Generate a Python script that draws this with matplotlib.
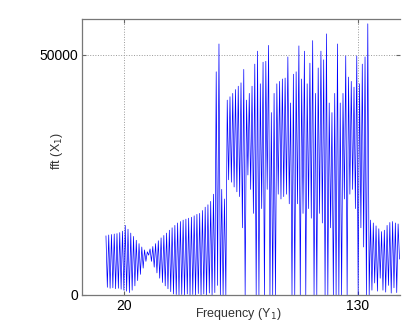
import numpy as np
import matplotlib
matplotlib.use("Agg")
import matplotlib.pyplot as plt

plt.rcParams['font.family'] = ['Liberation Sans', 'DejaVu Sans']

# spectrum, one peak/trough pair per oscillation (values in thousands)
f_start = 11.3
f_step = 1.3
peaks = [12.3, 12.5, 12.6, 12.7, 12.8, 13.0, 13.3, 14.5, 13.7, 12.9,
         12.2, 11.4, 10.7, 10.0, 9.4, 9.0, 9.6, 10.1, 10.7, 11.3,
         11.9, 12.4, 12.9, 13.5, 14.0, 14.5, 15.0, 15.3, 15.6, 15.8,
         16.0, 16.2, 16.5, 16.8, 17.0, 17.6, 18.3, 18.8, 19.5, 21.0,
         46.5, 52.3, 22.0, 20.0, 40.6, 41.3, 42.0, 42.8, 43.5, 44.2,
         47.0, 40.6, 42.0, 43.5, 48.1, 50.8, 44.0, 48.5, 48.7, 52.0,
         38.0, 42.0, 44.0, 44.5, 45.0, 45.2, 49.6, 40.0, 46.0, 46.5,
         51.9, 45.0, 50.8, 44.0, 48.3, 53.0, 42.0, 47.3, 50.8, 49.0,
         54.4, 40.0, 38.0, 42.0, 52.3, 40.0, 42.0, 49.8, 45.4, 44.5,
         43.3, 49.8, 44.0, 48.1, 49.6, 56.5, 15.6, 15.0, 14.4, 13.8,
         13.2, 13.5, 14.5, 15.1, 15.3, 15.0, 14.8]
troughs = [1.6, 1.4, 1.5, 1.3, 1.4, 1.2, 1.0, 0.8, 0.5, 1.0,
           1.9, 3.0, 4.3, 5.6, 7.0, 8.3, 7.0, 5.8, 4.6, 3.5,
           2.6, 1.9, 1.3, 0.7, 0.2, 0.1, 0.0, 0.1, 0.0, 0.2,
           0.0, 0.1, 0.0, 0.3, 0.0, 0.2, 0.0, 0.4, 0.0, 0.5,
           2.0, 0.0, 0.0, 0.0, 24.0, 23.5, 22.5, 21.5, 20.5, 14.0,
           0.0, 25.0, 22.0, 17.0, 0.0, 0.0, 18.0, 0.0, 22.0, 0.0,
           0.0, 0.0, 21.0, 20.0, 20.5, 21.0, 19.0, 0.0, 0.0, 19.0,
           0.0, 17.0, 0.0, 18.0, 16.0, 0.0, 0.0, 17.0, 15.0, 0.0,
           0.0, 14.0, 0.0, 0.0, 0.0, 0.0, 20.0, 0.0, 21.0, 22.0,
           18.0, 0.0, 14.0, 10.0, 0.0, 0.0, 1.0, 2.5, 0.8, 3.5,
           1.0, 0.6, 2.0, 0.4, 1.5, 0.5, 7.5]

x_ticks = [20, 130]
y_ticks = [0, 50000]

# interleave peak and trough samples, the trough half a step after its peak
n = len(peaks)
f_peak = f_start + f_step * np.arange(n)
freq = np.empty(2 * n)
amp = np.empty(2 * n)
freq[0::2] = f_peak
freq[1::2] = f_peak + f_step / 2
amp[0::2] = np.array(peaks) * 1000
amp[1::2] = np.array(troughs) * 1000

fig = plt.figure(figsize=(4.15, 3.31), dpi=100)
ax = fig.add_axes([0.1976, 0.1088, 0.7663, 0.8338])

ax.plot(freq, amp, color='#0000ff', linewidth=0.5)

ax.set_xlim(0, 150)
ax.set_ylim(0, 57500)
ax.set_xticks(x_ticks)
ax.set_yticks(y_ticks)
ax.set_xticklabels([str(t) for t in x_ticks], fontsize=10)
ax.set_yticklabels([str(t) for t in y_ticks], fontsize=10)
ax.tick_params(direction='in', length=3, width=0.8, color='#666666',
               top=True, right=True, pad=3)
ax.grid(True, linestyle=':', color='#999999', linewidth=0.7)

for side in ['left', 'bottom', 'top']:
    ax.spines[side].set_color('#777777')
    ax.spines[side].set_linewidth(0.9)
ax.spines['right'].set_visible(False)

ax.set_xlabel('Frequency (Y$_1$)', fontsize=9, color='#333333', va='top')
ax.xaxis.set_label_coords(0.49, -0.04)
ax.set_ylabel('fft (X$_1$)', fontsize=9, color='#333333', va='bottom')
ax.yaxis.set_label_coords(-0.052, 0.52)

fig.savefig('out.png', dpi=100)
